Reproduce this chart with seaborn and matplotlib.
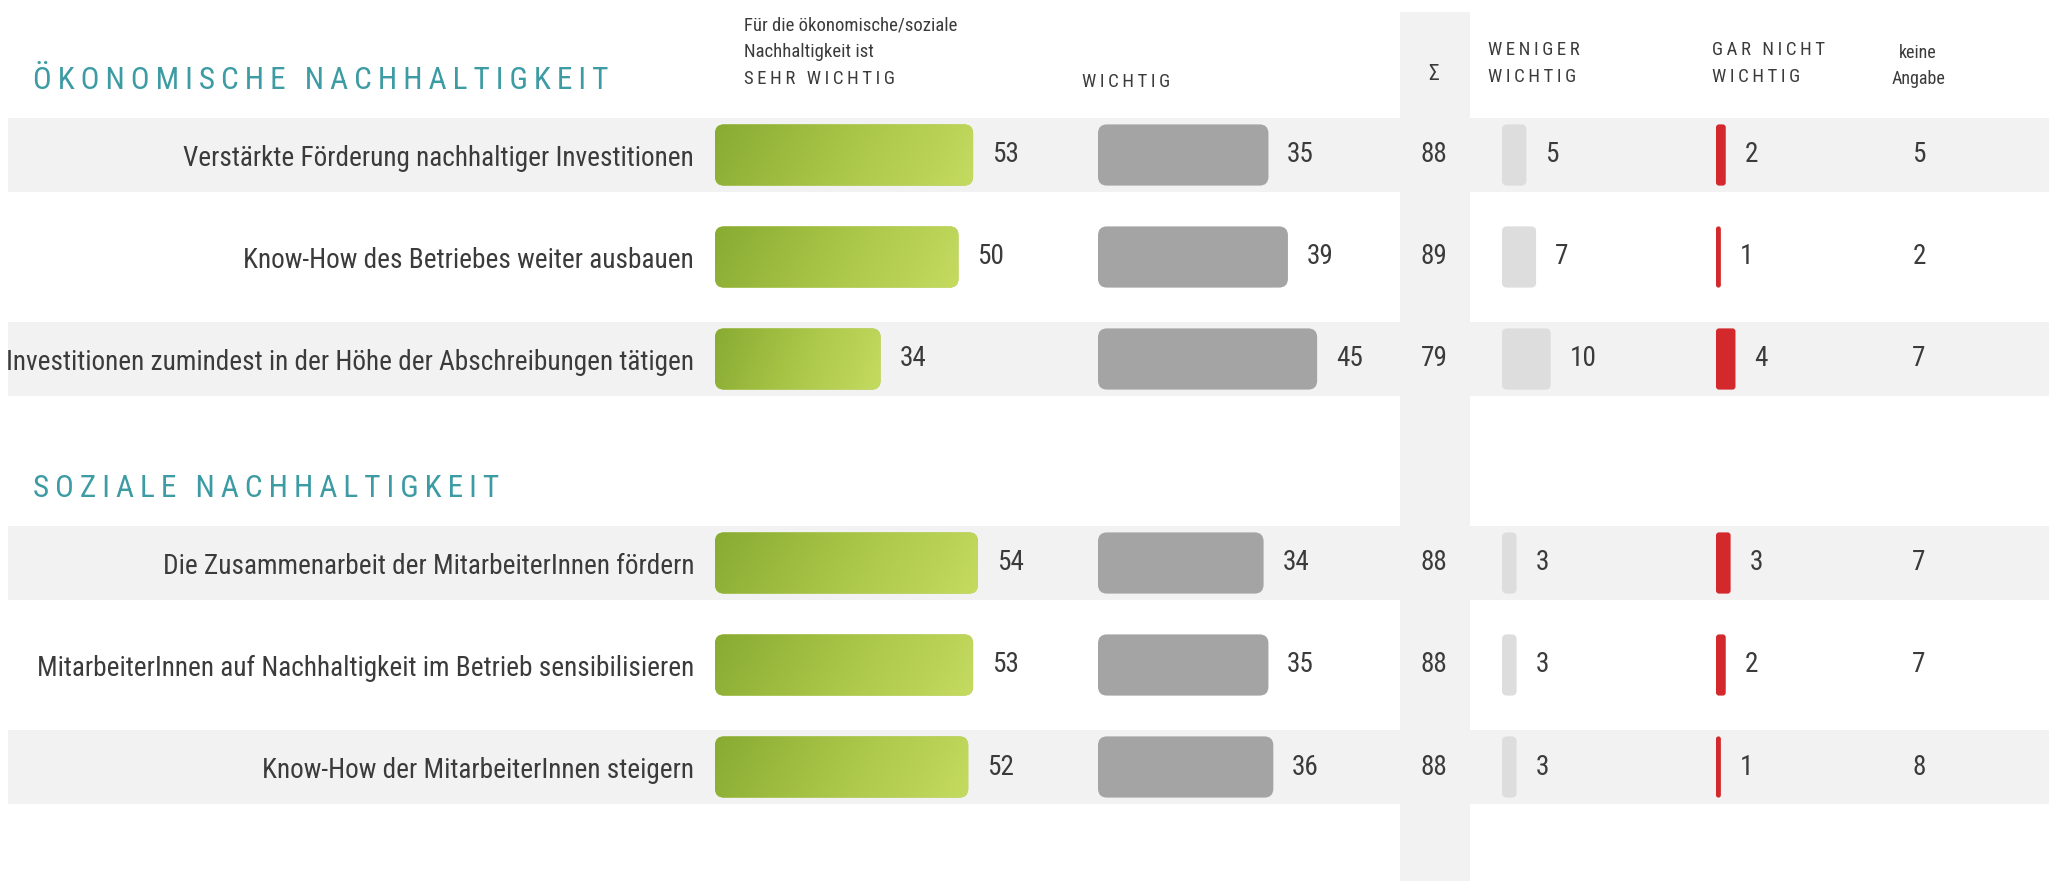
import numpy as np
import pandas as pd
import matplotlib
matplotlib.use("Agg")
import matplotlib.pyplot as plt
import seaborn as sns
from matplotlib import font_manager
from matplotlib.patches import FancyBboxPatch
from matplotlib.colors import LinearSegmentedColormap

# ---------------------------------------------------------------- data
groups = ["ÖKONOMISCHE NACHHALTIGKEIT", "SOZIALE NACHHALTIGKEIT"]
item_group = [0, 0, 0, 1, 1, 1]
items = [
    "Verstärkte Förderung nachhaltiger Investitionen",
    "Know-How des Betriebes weiter ausbauen",
    "Investitionen zumindest in der Höhe der Abschreibungen tätigen",
    "Die Zusammenarbeit der MitarbeiterInnen fördern",
    "MitarbeiterInnen auf Nachhaltigkeit im Betrieb sensibilisieren",
    "Know-How der MitarbeiterInnen steigern",
]
sehr_wichtig = [53, 50, 34, 54, 53, 52]
wichtig = [35, 39, 45, 34, 35, 36]
summe = [88, 89, 79, 88, 88, 88]
weniger_wichtig = [5, 7, 10, 3, 3, 3]
gar_nicht_wichtig = [2, 1, 4, 3, 2, 1]
keine_angabe = [5, 2, 7, 7, 7, 8]

head_sehr = ["Für die ökonomische/soziale", "Nachhaltigkeit ist", "SEHR WICHTIG"]
head_wichtig = "WICHTIG"
head_sum = "Σ"
head_weniger = ["WENIGER", "WICHTIG"]
head_gar = ["GAR NICHT", "WICHTIG"]
head_keine = ["keine", "Angabe"]

# ---------------------------------------------------------------- style
sns.set_theme(style="white")
available = {f.name for f in font_manager.fontManager.ttflist}
FONT = "DejaVu Sans"
for cand in ["Roboto Condensed", "Liberation Sans Narrow", "Open Sans Condensed"]:
    if cand in available:
        FONT = cand
        break
plt.rcParams["font.family"] = [FONT, "DejaVu Sans"]

TEXT = "#3b3b3b"
TEAL = "#3c9ba3"
BAND = "#f2f2f2"
GRAY_BAR = "#a4a4a4"
LIGHT_BAR = "#dddddd"
RED_BAR = "#d3292c"
GREEN_CMAP = LinearSegmentedColormap.from_list("grn", ["#88ab32", "#aac648", "#c4db60"])


def spaced(s):
    return "\u2009".join(s)


# ---------------------------------------------------------------- layout
W, H = 2049, 881
ROW_PX = 102          # vertical distance between rows
FIRST_ROW_PX = 155    # centre of the first row from the top
SCALE = 4.87          # pixels per percentage point
VAL_FS = 19.6

df = pd.DataFrame({
    "item": items,
    "group": item_group,
    "sehr": sehr_wichtig,
    "wichtig": wichtig,
    "summe": summe,
    "weniger": weniger_wichtig,
    "gar": gar_nicht_wichtig,
    "keine": keine_angabe,
})
# one slot per item plus an empty slot between the groups
df["pos"] = np.arange(len(df)) + df["group"].to_numpy()
df["local"] = df.groupby("group").cumcount()

ylim = ((H - FIRST_ROW_PX) / ROW_PX, -FIRST_ROW_PX / ROW_PX)


def py(pix):
    return (pix - FIRST_ROW_PX) / ROW_PX


fig = plt.figure(figsize=(W / 100, H / 100), dpi=100)
fig.patch.set_facecolor("white")

base = fig.add_axes([0, 0, 1, 1])
base.set_xlim(0, W)
base.set_ylim(*ylim)
base.axis("off")

# total column backdrop
base.axvspan(1400, 1470, ymin=0, ymax=1 - 12 / H, color=BAND, lw=0, zorder=0)
# alternating row bands
for p, loc in zip(df["pos"], df["local"]):
    if loc % 2 == 0:
        base.axhspan(p - 0.36, p + 0.36, xmin=8 / W, xmax=1, color=BAND, lw=0, zorder=0.5)


def column_axes(left_px, span=60):
    ax = fig.add_axes([left_px / W, 0, span * SCALE / W, 1])
    ax.patch.set_alpha(0)
    return ax


def finish(ax, span=60):
    ax.set_xlim(0, span)
    ax.set_ylim(*ylim)
    for s in ax.spines.values():
        s.set_visible(False)
    ax.set_xticks([])
    ax.set_yticks([])
    ax.set_xlabel("")
    ax.set_ylabel("")


def round_bars(ax, radius_px, color, cmap=None):
    finish(ax)
    o = ax.transData.transform((0, 0))
    sx = ax.transData.transform((1, 0))[0] - o[0]
    sy = abs(ax.transData.transform((0, 1))[1] - o[1])
    for r in list(ax.patches):
        x0, y0, w, h = r.get_x(), r.get_y(), r.get_width(), r.get_height()
        r.remove()
        rad = min(radius_px, w * sx / 2, abs(h) * sy / 2)
        patch = FancyBboxPatch(
            (x0, y0), w, h,
            boxstyle=f"round,pad=0,rounding_size={rad / sx}",
            mutation_aspect=sx / sy,
            facecolor=color, edgecolor="none", zorder=2,
        )
        ax.add_patch(patch)
        if cmap is not None:
            gx = np.linspace(0, 1, 200)[None, :]
            gy = np.linspace(0, 1, 40)[:, None]
            grad = np.clip(0.88 * gx + 0.12 * gy, 0, 1)
            im = ax.imshow(grad, extent=(x0, x0 + w, y0 + h, y0), cmap=cmap,
                           aspect="auto", zorder=3, interpolation="bilinear")
            im.set_clip_path(patch)
    finish(ax)


def value_labels(ax, values):
    for v, p in zip(values, df["pos"]):
        ax.annotate(str(v), xy=(v, p), xytext=(13.5, 0), textcoords="offset points",
                    ha="left", va="center", fontsize=VAL_FS, color=TEXT)


columns = [
    ("sehr", 715, None, GREEN_CMAP, 9),
    ("wichtig", 1098, GRAY_BAR, None, 9),
    ("weniger", 1502, LIGHT_BAR, None, 5),
    ("gar", 1716, RED_BAR, None, 3),
]
axes = {}
for key, left, color, cmap, rad in columns:
    ax = column_axes(left)
    sns.barplot(data=df, x=key, y="pos", orient="y", native_scale=True, width=0.6,
                color=color if color else "#a8c44a", errorbar=None, saturation=1, ax=ax)
    round_bars(ax, rad, color if color else "#a8c44a", cmap)
    value_labels(ax, df[key])
    axes[key] = ax

# item labels as tick labels of the first bar column
ax0 = axes["sehr"]
ax0.set_yticks(df["pos"])
ax0.set_yticklabels(df["item"], fontsize=VAL_FS, color=TEXT)
ax0.tick_params(axis="y", length=0, pad=15)
ax0.set_ylim(*ylim)

# totals and "keine Angabe"
for p, s, k in zip(df["pos"], df["summe"], df["keine"]):
    base.text(1434, p, str(s), ha="center", va="center", fontsize=VAL_FS, color=TEXT, zorder=5)
    base.text(1919, p, str(k), ha="center", va="center", fontsize=VAL_FS, color=TEXT, zorder=5)

# group titles
for g, name in enumerate(groups):
    first = df.loc[df["group"] == g, "pos"].min()
    base.text(33, first - 0.73, spaced(name), ha="left", va="center",
              fontsize=22.5, color=TEAL, zorder=5)

# column headers
HFS = 13.5
for line, ypx in zip(head_sehr, [25, 52, 79]):
    txt = spaced(line) if line.isupper() else line
    base.text(744, py(ypx), txt, ha="left", va="center", fontsize=HFS, color=TEXT)
base.text(1082, py(82), spaced(head_wichtig), ha="left", va="center", fontsize=HFS, color=TEXT)
base.text(1434, py(74), head_sum, ha="center", va="center", fontsize=HFS + 2, color=TEXT)
for line, ypx in zip(head_weniger, [50, 77]):
    base.text(1488, py(ypx), spaced(line), ha="left", va="center", fontsize=HFS, color=TEXT)
for line, ypx in zip(head_gar, [50, 77]):
    base.text(1712, py(ypx), spaced(line), ha="left", va="center", fontsize=HFS, color=TEXT)
for line, ypx in zip(head_keine, [53, 79]):
    base.text(1918, py(ypx), line, ha="center", va="center", fontsize=HFS - 0.5, color=TEXT)

fig.savefig("out.png", dpi=100, facecolor="white")
